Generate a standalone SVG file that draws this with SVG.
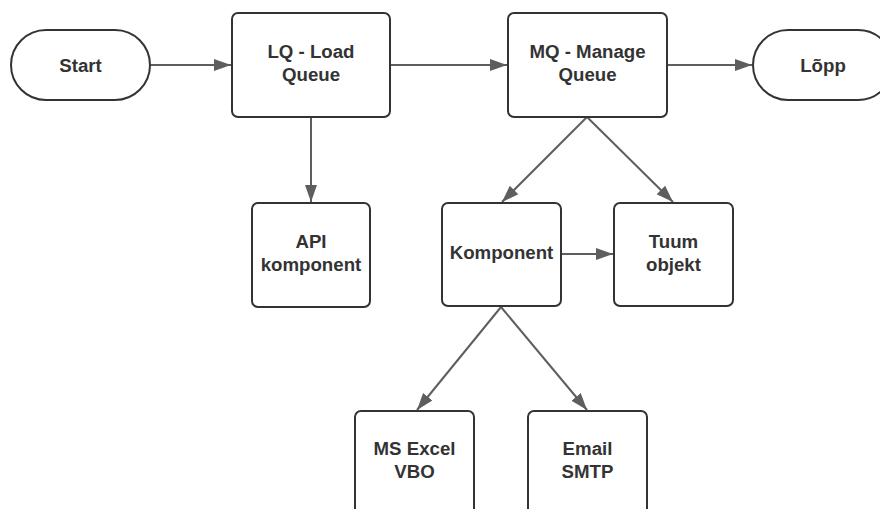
<svg xmlns="http://www.w3.org/2000/svg" width="880" height="509" viewBox="0 0 880 509">
  <style>
    .box { fill: #ffffff; stroke: #333333; stroke-width: 2; }
    .lbl { font-family: "Liberation Sans", Arial, sans-serif; font-weight: bold; font-size: 18.67px; fill: #333333; text-anchor: middle; }
    .conn { fill: none; stroke: #5e5e5e; stroke-width: 2; marker-end: url(#arrow); }
  </style>
  <defs>
    <marker id="arrow" markerUnits="userSpaceOnUse" markerWidth="18" markerHeight="14" refX="17" refY="7" orient="auto">
      <path d="M0,1 L17,7 L0,13 Z" fill="#5e5e5e"/>
    </marker>
  </defs>
  <rect width="880" height="509" fill="#ffffff"/>

  <g id="connectors">
    <line class="conn" x1="150" y1="65" x2="231" y2="65"/>
    <line class="conn" x1="390" y1="65" x2="507" y2="65"/>
    <line class="conn" x1="667" y1="65" x2="752" y2="65"/>
    <line class="conn" x1="311" y1="117" x2="311" y2="202"/>
    <line class="conn" x1="587" y1="117" x2="502" y2="202"/>
    <line class="conn" x1="587" y1="117" x2="673" y2="202"/>
    <line class="conn" x1="561" y1="254" x2="613" y2="254"/>
    <line class="conn" x1="501" y1="307" x2="417" y2="410"/>
    <line class="conn" x1="501" y1="307" x2="587" y2="410"/>
  </g>

  <g id="start">
    <rect class="box" x="11" y="30" width="139" height="70" rx="35"/>
    <text class="lbl" x="80.5" y="71.5">Start</text>
  </g>
  <g id="lq">
    <rect class="box" x="232" y="13" width="158" height="104" rx="6"/>
    <text class="lbl" x="311" y="57.5">LQ - Load</text>
    <text class="lbl" x="311" y="80.5">Queue</text>
  </g>
  <g id="mq">
    <rect class="box" x="508" y="13" width="159" height="104" rx="6"/>
    <text class="lbl" x="587.5" y="57.5">MQ - Manage</text>
    <text class="lbl" x="587.5" y="80.5">Queue</text>
  </g>
  <g id="lopp">
    <rect class="box" x="753" y="30" width="140" height="70" rx="35"/>
    <text class="lbl" x="823" y="71.5">Lõpp</text>
  </g>
  <g id="api">
    <rect class="box" x="252" y="203" width="118" height="104" rx="6"/>
    <text class="lbl" x="311" y="247.5">API</text>
    <text class="lbl" x="311" y="270.5">komponent</text>
  </g>
  <g id="komponent">
    <rect class="box" x="442" y="203" width="119" height="103" rx="6"/>
    <text class="lbl" x="501.5" y="259">Komponent</text>
  </g>
  <g id="tuum">
    <rect class="box" x="614" y="203" width="119" height="103" rx="6"/>
    <text class="lbl" x="673.5" y="247.5">Tuum</text>
    <text class="lbl" x="673.5" y="270.5">objekt</text>
  </g>
  <g id="excel">
    <rect class="box" x="355" y="411" width="119" height="104" rx="6"/>
    <text class="lbl" x="414.5" y="455">MS Excel</text>
    <text class="lbl" x="414.5" y="478">VBO</text>
  </g>
  <g id="email">
    <rect class="box" x="528" y="411" width="119" height="104" rx="6"/>
    <text class="lbl" x="587.5" y="455">Email</text>
    <text class="lbl" x="587.5" y="478">SMTP</text>
  </g>
</svg>
